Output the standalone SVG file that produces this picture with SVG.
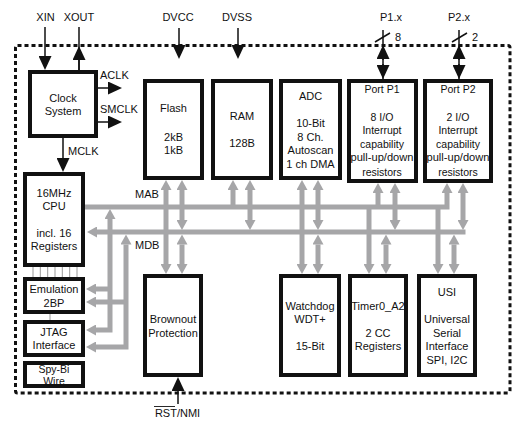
<svg xmlns="http://www.w3.org/2000/svg" width="526" height="425" viewBox="0 0 526 425">
<style>
.box{fill:#fff;stroke:#111;stroke-width:4}
.t{font-family:"Liberation Sans",Arial,sans-serif;font-size:11px;fill:#111;text-anchor:middle}
.p{font-size:10.5px}
.l{font-family:"Liberation Sans",Arial,sans-serif;font-size:11px;fill:#111}
.bus{fill:none;stroke:#a6a6a8;stroke-width:5;stroke-linejoin:miter}
.blk{fill:none;stroke:#111;stroke-width:1.5}
.thin{stroke:#999;stroke-width:1}
.border{fill:none;stroke:#111;stroke-width:3;stroke-dasharray:4 3}
</style>
<defs>
<marker id="ga" markerUnits="userSpaceOnUse" markerWidth="10" markerHeight="11" viewBox="0 0 10 11" refX="0" refY="5.5" orient="auto-start-reverse">
<path d="M0,0 L10,5.5 L0,11 z" fill="#a6a6a8"/>
</marker>
<marker id="ba" markerUnits="userSpaceOnUse" markerWidth="14" markerHeight="13" viewBox="0 0 14 13" refX="0" refY="6.5" orient="auto-start-reverse">
<path d="M0,0 L14,6.5 L0,13 z" fill="#111"/>
</marker>
</defs>
<rect class="border" x="15.5" y="45.5" width="494.5" height="347.5" rx="2"/>

<g id="labels">
<text class="t" x="45.5" y="21">XIN</text>
<text class="t" x="79" y="21">XOUT</text>
<text class="t" x="178" y="21">DVCC</text>
<text class="t" x="237" y="21">DVSS</text>
<text class="t" x="391" y="21">P1.x</text>
<text class="t" x="459" y="21">P2.x</text>
<text class="l" x="395" y="41">8</text>
<text class="l" x="472" y="41">2</text>
<text class="l" x="100" y="79">ACLK</text>
<text class="l" x="100" y="113">SMCLK</text>
<text class="l" x="68" y="155">MCLK</text>
<text class="l" x="135" y="198">MAB</text>
<text class="l" x="135" y="249">MDB</text>
<text class="t" x="177.5" y="417">RST/NMI</text>
<line x1="154" y1="406.5" x2="175" y2="406.5" stroke="#111" stroke-width="0.9"/>
</g>

<g id="connectors">
<path class="blk" d="M45 27 V56" marker-end="url(#ba)"/>
<path class="blk" d="M79 27 V70"/>
<path class="blk" d="M79 70 V60" marker-end="url(#ba)"/>
<path class="blk" d="M98 88 H108" marker-end="url(#ba)"/>
<path class="blk" d="M98 122 H108" marker-end="url(#ba)"/>
<path class="blk" d="M63 138 V158" marker-end="url(#ba)"/>
<path class="blk" d="M179 28 V45" marker-end="url(#ba)"/>
<path class="blk" d="M238 28 V45" marker-end="url(#ba)"/>
<path class="blk" d="M178 404 V391" marker-end="url(#ba)"/>
<path class="blk" d="M383 30 V79"/>
<path class="blk" d="M383 60 V59" marker-end="url(#ba)"/>
<path class="blk" d="M383 64 V65" marker-end="url(#ba)"/>
<path class="blk" d="M459 30 V79"/>
<path class="blk" d="M459 60 V59" marker-end="url(#ba)"/>
<path class="blk" d="M459 64 V65" marker-end="url(#ba)"/>
<line class="blk" x1="375" y1="42" x2="390" y2="33" stroke-width="1"/>
<line class="blk" x1="452" y1="42" x2="467" y2="33" stroke-width="1"/>

<path class="bus" d="M85 207 H447 V193" marker-end="url(#ga)"/>
<path class="bus" d="M97 232 H465.5" marker-start="url(#ga)"/>
<path class="bus" d="M110 219 V330 H96" marker-start="url(#ga)" marker-end="url(#ga)"/>
<path class="bus" d="M110 289 H96" marker-end="url(#ga)"/>
<path class="bus" d="M126 244.5 V347 H96" marker-start="url(#ga)" marker-end="url(#ga)"/>
<path class="bus" d="M126 302 H96" marker-end="url(#ga)"/>

<path class="bus" d="M166 190 V264" marker-start="url(#ga)" marker-end="url(#ga)"/>
<path class="bus" d="M182 190 V220" marker-start="url(#ga)" marker-end="url(#ga)"/>
<path class="bus" d="M182 244.5 V264" marker-start="url(#ga)" marker-end="url(#ga)"/>
<path class="bus" d="M233 207 V190" marker-end="url(#ga)"/>
<path class="bus" d="M250 190 V220" marker-start="url(#ga)" marker-end="url(#ga)"/>
<path class="bus" d="M302 190 V264" marker-start="url(#ga)" marker-end="url(#ga)"/>
<path class="bus" d="M318 190 V220" marker-start="url(#ga)" marker-end="url(#ga)"/>
<path class="bus" d="M318 244.5 V264" marker-start="url(#ga)" marker-end="url(#ga)"/>
<path class="bus" d="M378 207 V193" marker-end="url(#ga)"/>
<path class="bus" d="M395 193 V220" marker-start="url(#ga)" marker-end="url(#ga)"/>
<path class="bus" d="M463 193 V220" marker-start="url(#ga)" marker-end="url(#ga)"/>
<path class="bus" d="M369 207 V264" marker-end="url(#ga)"/>
<path class="bus" d="M386 244.5 V264" marker-start="url(#ga)" marker-end="url(#ga)"/>
<path class="bus" d="M438 207 V264" marker-end="url(#ga)"/>
<path class="bus" d="M454 244.5 V264" marker-start="url(#ga)" marker-end="url(#ga)"/>

<g class="thin">
<line x1="33" y1="267" x2="33" y2="277"/>
<line x1="40.3" y1="267" x2="40.3" y2="277"/>
<line x1="47.7" y1="267" x2="47.7" y2="277"/>
<line x1="55" y1="267" x2="55" y2="277"/>
<line x1="62.3" y1="267" x2="62.3" y2="277"/>
<line x1="69.7" y1="267" x2="69.7" y2="277"/>
<line x1="77" y1="267" x2="77" y2="277"/>
<line x1="50" y1="314" x2="50" y2="320"/>
</g>
</g>

<g id="clock"><rect class="box" x="30" y="72" width="66" height="64"/>
<text class="t" x="63" y="102">Clock</text><text class="t" x="63" y="115">System</text></g>

<g id="cpu"><rect class="box" x="25" y="174" width="58" height="91"/>
<text class="t" x="54" y="197">16MHz</text><text class="t" x="54" y="210">CPU</text>
<text class="t" x="54" y="237">incl. 16</text><text class="t" x="54" y="250">Registers</text></g>

<g id="emulation"><rect class="box" x="25" y="279" width="58" height="33"/>
<text class="t" x="54" y="293">Emulation</text><text class="t" x="54" y="307">2BP</text></g>

<g id="jtag"><rect class="box" x="25" y="322" width="58" height="33"/>
<text class="t" x="54" y="336">JTAG</text><text class="t" x="54" y="349">Interface</text></g>

<g id="spybi"><rect class="box" x="25" y="363" width="58" height="23"/>
<text class="t" x="54" y="372.5" style="font-size:10.5px">Spy-Bi</text><text class="t" x="54" y="385" style="font-size:10.5px">Wire</text></g>

<g id="flash"><rect class="box" x="145" y="81" width="57" height="97"/>
<text class="t" x="173.5" y="112">Flash</text><text class="t" x="173.5" y="141">2kB</text><text class="t" x="173.5" y="154">1kB</text></g>

<g id="ram"><rect class="box" x="213" y="81" width="58" height="97"/>
<text class="t" x="242" y="120">RAM</text><text class="t" x="242" y="147">128B</text></g>

<g id="adc"><rect class="box" x="281" y="81" width="59" height="97"/>
<text class="t" x="310.5" y="100">ADC</text><text class="t" x="310.5" y="127">10-Bit</text>
<text class="t" x="310.5" y="141">8 Ch.</text><text class="t" x="310.5" y="154">Autoscan</text>
<text class="t" x="310.5" y="168">1 ch DMA</text></g>

<g id="portp1"><rect class="box" x="349" y="81" width="67" height="100"/>
<text class="t p" x="382" y="93">Port P1</text><text class="t p" x="382" y="121">8 I/O</text>
<text class="t p" x="382" y="134">Interrupt</text><text class="t p" x="382" y="148">capability</text>
<text class="t p" x="382" y="161" textLength="63" lengthAdjust="spacingAndGlyphs">pull-up/down</text><text class="t p" x="382" y="176">resistors</text></g>

<g id="portp2"><rect class="box" x="425" y="81" width="66" height="100"/>
<text class="t p" x="458" y="93">Port P2</text><text class="t p" x="458" y="121">2 I/O</text>
<text class="t p" x="458" y="134">Interrupt</text><text class="t p" x="458" y="148">capability</text>
<text class="t p" x="458" y="161" textLength="63" lengthAdjust="spacingAndGlyphs">pull-up/down</text><text class="t p" x="458" y="176">resistors</text></g>

<g id="brownout"><rect class="box" x="145" y="276" width="56" height="99"/>
<text class="t" x="173" y="323">Brownout</text><text class="t" x="173" y="337">Protection</text></g>

<g id="watchdog"><rect class="box" x="281" y="276" width="58" height="99"/>
<text class="t" x="310" y="310">Watchdog</text><text class="t" x="310" y="323">WDT+</text>
<text class="t" x="310" y="350">15-Bit</text></g>

<g id="timer"><rect class="box" x="350" y="276" width="56" height="99"/>
<text class="t" x="378" y="310">Timer0_A2</text><text class="t" x="378" y="337">2 CC</text>
<text class="t" x="378" y="350">Registers</text></g>

<g id="usi"><rect class="box" x="419" y="276" width="56" height="99"/>
<text class="t" x="447" y="296">USI</text><text class="t" x="447" y="323">Universal</text>
<text class="t" x="447" y="337">Serial</text><text class="t" x="447" y="350">Interface</text>
<text class="t" x="447" y="364">SPI, I2C</text></g>
</svg>
